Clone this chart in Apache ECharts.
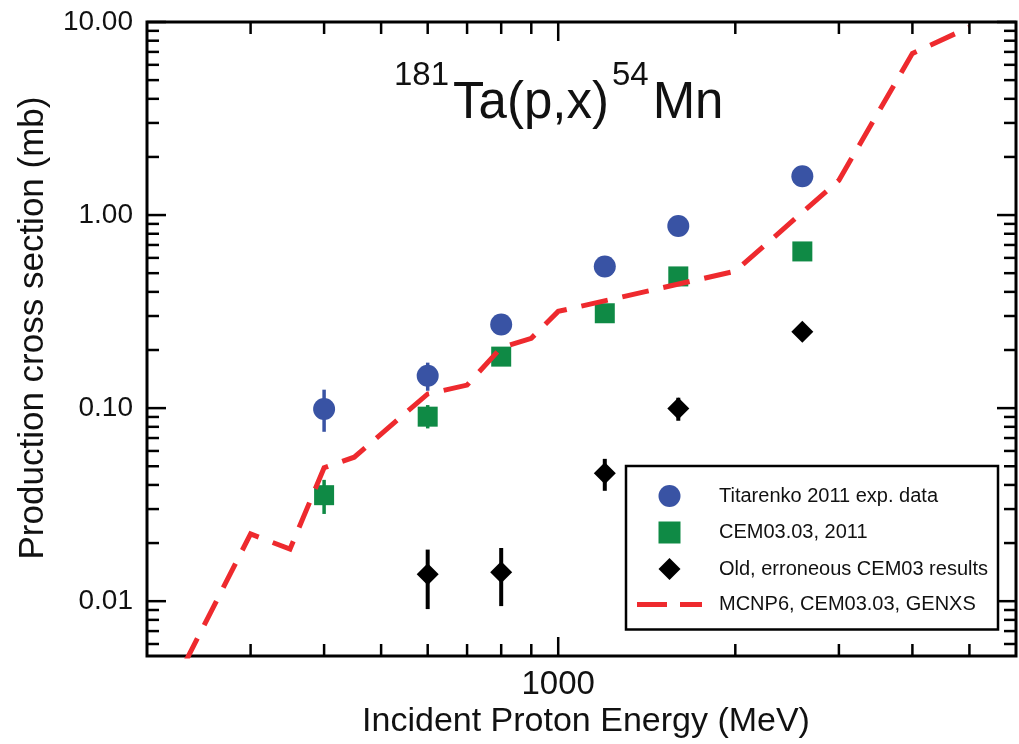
<!DOCTYPE html>
<html>
<head>
<meta charset="utf-8">
<script src="https://cdn.jsdelivr.net/npm/echarts@6/dist/echarts.min.js"></script>
<style>
html,body{margin:0;padding:0;background:#fff;}
#c{width:1019px;height:744px;}
</style>
</head>
<body>
<div id="c"></div>
<script>
// ---- axis ranges & ticks ----
const X_RANGE = [200, 6000];
const Y_RANGE = [0.0052, 10];
const xTicksMajor = [1000];
const xTicksMinor = [300, 400, 500, 600, 700, 800, 900, 2000, 3000, 4000, 5000];
const yTicksMajor = [0.01, 0.1, 1, 10];
const yTicksMinor = [0.006, 0.007, 0.008, 0.009,
  0.02, 0.03, 0.04, 0.05, 0.06, 0.07, 0.08, 0.09,
  0.2, 0.3, 0.4, 0.5, 0.6, 0.7, 0.8, 0.9,
  2, 3, 4, 5, 6, 7, 8, 9];

// ---- data ----
const titarenkoE = [400, 600, 800, 1200, 1600, 2600];
const titarenkoV = [0.099, 0.147, 0.271, 0.542, 0.877, 1.588];
const titarenkoErr = [[0.0754, 0.1246], [0.123, 0.172], null, null, null, null];

const cemE = [400, 600, 800, 1200, 1600, 2600];
const cemV = [0.0354, 0.0903, 0.1848, 0.310, 0.481, 0.648];
const cemErr = [[0.0283, 0.0425], [0.0785, 0.1037], null, null, null, null];

const oldE = [600, 800, 1200, 1600, 2600];
const oldV = [0.01377, 0.0141, 0.046, 0.0996, 0.249];
const oldErr = [[0.0091, 0.0185], [0.00943, 0.01886], [0.0373, 0.0546], [0.086, 0.1132], null];

const mcnpE = [200, 300, 350, 400, 450, 600, 700, 800, 900, 1000, 2000, 3000, 4000, 5000];
const mcnpV = [0.00197, 0.0223, 0.0186, 0.0491, 0.0557, 0.1184, 0.1316, 0.2058, 0.230, 0.317, 0.512, 1.514, 6.88, 9.4];

const NAMES = ['Titarenko 2011 exp. data', 'CEM03.03, 2011', 'Old, erroneous CEM03 results', 'MCNP6, CEM03.03, GENXS'];
const BLUE = '#3953a4', GREEN = '#0f8a45', BLACK = '#000000', RED = '#ee2a2e';
const TXT = '#111111';
const FONT = "'Liberation Sans', Arial, sans-serif";

function pairs(xs, ys) { return xs.map((x, i) => [x, ys[i]]); }
function errItems(xs, errs) {
  const out = [];
  xs.forEach((x, i) => { if (errs[i]) out.push([x, errs[i][0], errs[i][1]]); });
  return out;
}
function errSeries(name, xs, errs, color, width) {
  return {
    name: name, type: 'custom', coordinateSystem: 'cartesian2d', silent: true, z: 2,
    data: errItems(xs, errs), encode: { x: 0, y: [1, 2] },
    renderItem: function (params, api) {
      const a = api.coord([api.value(0), api.value(1)]);
      const b = api.coord([api.value(0), api.value(2)]);
      return { type: 'line', shape: { x1: a[0], y1: a[1], x2: b[0], y2: b[1] },
        style: { stroke: color, lineWidth: width } };
    }
  };
}
function isDecade(v) {
  const l = Math.log10(v);
  return Math.abs(l - Math.round(l)) < 1e-6;
}

const xTickItems = xTicksMajor.map(v => [v, 1, 1]).concat(xTicksMinor.map(v => [v, 1, 0]));
const yTickItems = yTicksMajor.map(v => [1000, v, 1]).concat(yTicksMinor.map(v => [1000, v, 0]));

const chart = echarts.init(document.getElementById('c'), null, { renderer: 'canvas' });
chart.setOption({
  animation: false,
  backgroundColor: '#ffffff',
  grid: { left: 147, top: 22, right: -5, bottom: 88, show: true, borderColor: '#000', borderWidth: 3, backgroundColor: 'transparent' },
  xAxis: {
    type: 'log', logBase: 10, min: X_RANGE[0], max: X_RANGE[1],
    axisLine: { show: false }, axisTick: { show: false }, splitLine: { show: false }, minorTick: { show: false },
    axisLabel: {
      margin: 12, fontSize: 33, color: TXT, fontFamily: FONT,
      formatter: function (v) { return (isDecade(v) && Math.round(v) === 1000) ? '1000' : ''; }
    }
  },
  yAxis: {
    type: 'log', logBase: 10, min: Y_RANGE[0], max: Y_RANGE[1],
    axisLine: { show: false }, axisTick: { show: false }, splitLine: { show: false }, minorTick: { show: false },
    axisLabel: {
      margin: 14, fontSize: 28, color: TXT, fontFamily: FONT, padding: [5, 0, 0, 0],
      formatter: function (v) { return isDecade(v) ? Number(v).toFixed(2) : ''; }
    }
  },
  legend: {
    data: [
      { name: NAMES[0], icon: 'circle' },
      { name: NAMES[1], icon: 'path://M0,0h10v10h-10z' },
      { name: NAMES[2], icon: 'path://M5,0L10,5L5,10L0,5z' },
      { name: NAMES[3], icon: 'path://M0,0h30v5h-30zM43,0h22v5h-22z' }
    ],
    orient: 'vertical', left: 626, top: 466, symbolKeepAspect: true,
    padding: [19, 10, 15, 11], itemGap: 14.5, itemWidth: 65, itemHeight: 22,
    borderColor: '#000', borderWidth: 2.5, backgroundColor: '#fff',
    textStyle: { fontSize: 20, color: TXT, fontFamily: FONT, padding: [0, 0, 0, 12] },
    selectedMode: false
  },
  graphic: [
    {
      type: 'text', left: 394, top: 59, silent: true,
      style: {
        text: '{s|181}{m|Ta(p,x)}{s|54}{m|Mn}',
        rich: {
          s: { fontSize: 33, lineHeight: 30, verticalAlign: 'top', fill: TXT, fontFamily: FONT },
          m: { fontSize: 51, lineHeight: 70, verticalAlign: 'bottom', fill: TXT, fontFamily: FONT, padding: [0, 3, 0, 4] }
        }
      }
    },
    {
      type: 'text', x: 586, y: 722, silent: true,
      style: { text: 'Incident Proton Energy (MeV)', fontSize: 34, fill: TXT, align: 'center', verticalAlign: 'middle', fontFamily: FONT }
    },
    {
      type: 'text', x: 33, y: 328, rotation: Math.PI / 2, silent: true,
      style: { text: 'Production cross section (mb)', fontSize: 35, fill: TXT, align: 'center', verticalAlign: 'middle', fontFamily: FONT }
    }
  ],
  series: [
    errSeries('errT', titarenkoE, titarenkoErr, BLUE, 3.5),
    errSeries('errC', cemE, cemErr, GREEN, 3.5),
    errSeries('errO', oldE, oldErr, BLACK, 4),
    {
      name: NAMES[0], type: 'scatter', data: pairs(titarenkoE, titarenkoV),
      symbol: 'circle', symbolSize: 22, itemStyle: { color: BLUE, opacity: 1 }, z: 3
    },
    {
      name: NAMES[1], type: 'scatter', data: pairs(cemE, cemV),
      symbol: 'rect', symbolSize: 20, itemStyle: { color: GREEN, opacity: 1 }, z: 3
    },
    {
      name: NAMES[2], type: 'scatter', data: pairs(oldE, oldV),
      symbol: 'diamond', symbolSize: 22, itemStyle: { color: BLACK, opacity: 1 }, z: 3
    },
    {
      name: NAMES[3], type: 'line', data: pairs(mcnpE, mcnpV), symbol: 'none', clip: true, z: 4,
      lineStyle: { color: RED, width: 5, type: [27, 15], cap: 'butt', join: 'miter' },
      itemStyle: { color: RED }
    },
    {
      name: 'xticks', type: 'custom', coordinateSystem: 'cartesian2d', silent: true, clip: false, z: 6,
      data: xTickItems, encode: { x: 0, y: 1 },
      renderItem: function (params, api) {
        const v = api.value(0), major = api.value(2);
        const pb = api.coord([v, Y_RANGE[0]]), pt = api.coord([v, Y_RANGE[1]]);
        const len = major ? 19 : 12;
        const st = { stroke: '#000', lineWidth: 2.5 };
        return { type: 'group', children: [
          { type: 'line', shape: { x1: pb[0], y1: pb[1], x2: pb[0], y2: pb[1] - len }, style: st },
          { type: 'line', shape: { x1: pt[0], y1: pt[1], x2: pt[0], y2: pt[1] + len }, style: st }
        ] };
      }
    },
    {
      name: 'yticks', type: 'custom', coordinateSystem: 'cartesian2d', silent: true, clip: false, z: 6,
      data: yTickItems, encode: { x: 0, y: 1 },
      renderItem: function (params, api) {
        const v = api.value(1), major = api.value(2);
        const pl = api.coord([X_RANGE[0], v]), pr = api.coord([X_RANGE[1], v]);
        const len = major ? 19 : 12;
        const st = { stroke: '#000', lineWidth: 2.5 };
        return { type: 'group', children: [
          { type: 'line', shape: { x1: pl[0], y1: pl[1], x2: pl[0] + len, y2: pl[1] }, style: st },
          { type: 'line', shape: { x1: pr[0], y1: pr[1], x2: pr[0] - len, y2: pr[1] }, style: st }
        ] };
      }
    }
  ]
});
</script>
</body>
</html>
